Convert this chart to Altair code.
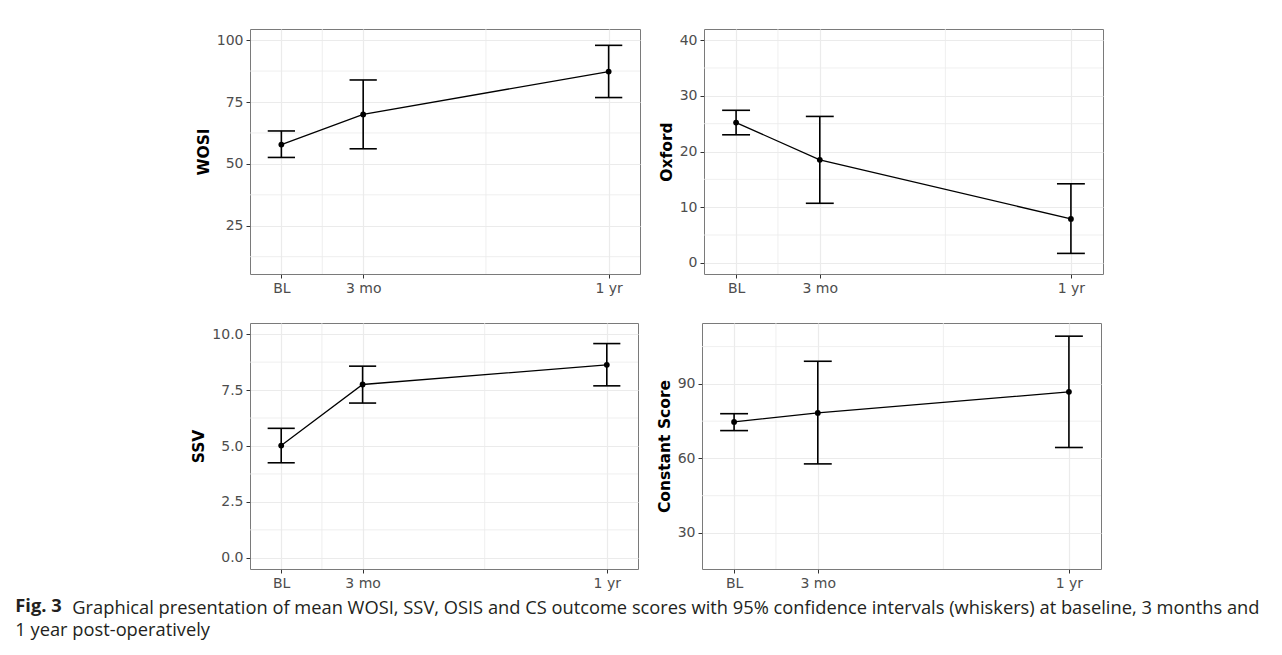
import altair as alt
import pandas as pd

# ---- data ----
time_pos = [0, 3, 12]
time_labels = ["BL", "3 mo", "1 yr"]
x_minor = [1.5, 7.5]

wosi_mean = [57.8, 70.0, 87.3]
wosi_lo = [52.6, 56.1, 76.8]
wosi_hi = [63.3, 83.9, 97.9]
wosi_ticks = [25, 50, 75, 100]
wosi_minor = [12.5, 37.5, 62.5, 87.5]

oxford_mean = [25.2, 18.5, 7.9]
oxford_lo = [23.0, 10.7, 1.7]
oxford_hi = [27.4, 26.3, 14.2]
oxford_ticks = [0, 10, 20, 30, 40]
oxford_minor = [5, 15, 25, 35]

ssv_mean = [5.02, 7.75, 8.63]
ssv_lo = [4.25, 6.92, 7.69]
ssv_hi = [5.79, 8.57, 9.58]
ssv_ticks = [0.0, 2.5, 5.0, 7.5, 10.0]
ssv_minor = [1.25, 3.75, 6.25, 8.75]

cs_mean = [74.7, 78.3, 86.8]
cs_lo = [71.2, 57.8, 64.4]
cs_hi = [78.0, 99.1, 109.2]
cs_ticks = [30, 60, 90]
cs_minor = [45, 75, 105]

caption_bold = "Fig. 3"
caption_line1 = ("Graphical presentation of mean WOSI, SSV, OSIS and CS outcome scores "
                 "with 95% confidence intervals (whiskers) at baseline, 3 months and")
caption_line2 = "1 year post-operatively"

label_expr = " : ".join(
    f"datum.value == {v} ? '{l}'" for v, l in zip(time_pos, time_labels)
) + " : ''"

GRID = "#ebebeb"
CAP_SIZE = 18.3
CAP_LH = 23
CAP_FONT = "Open Sans"
CAP_COLOR = "#231f20"
BOLD_GAP = 57  # room taken by the bold "Fig. 3" label on line 1
CAP_SHIFT = -176  # caption starts left of the panels


def panel(mean, lo, hi, title, ydomain, yticks, yminor, fmt, width, height):
    df = pd.DataFrame({"t": time_pos, "mean": mean, "lo": lo, "hi": hi})
    xscale = alt.Scale(domain=[-1.15, 13.15], nice=False, zero=False)
    yscale = alt.Scale(domain=ydomain, nice=False, zero=False)
    xaxis = alt.Axis(values=time_pos, labelExpr=label_expr, title=None,
                     grid=True, labelFlush=False, labelOverlap=False)
    yaxis = alt.Axis(values=yticks, format=fmt, title=title, grid=True,
                     labelFlush=False, labelOverlap=False)

    mx = alt.Chart(pd.DataFrame({"v": x_minor})).mark_rule(
        color=GRID, strokeWidth=0.8
    ).encode(x=alt.X("v:Q", scale=xscale, axis=xaxis))
    my = alt.Chart(pd.DataFrame({"v": yminor})).mark_rule(
        color=GRID, strokeWidth=0.8
    ).encode(y=alt.Y("v:Q", scale=yscale, axis=yaxis))

    base = alt.Chart(df)
    bars = base.mark_rule(color="black", strokeWidth=1.6).encode(
        x=alt.X("t:Q", scale=xscale, axis=xaxis),
        y=alt.Y("lo:Q", scale=yscale, axis=yaxis),
        y2="hi:Q",
    )
    caps = base.transform_fold(["lo", "hi"], as_=["k", "val"]).transform_calculate(
        x0="datum.t - 0.5", x1="datum.t + 0.5"
    ).mark_rule(color="black", strokeWidth=1.6).encode(
        x=alt.X("x0:Q", scale=xscale, axis=xaxis),
        x2="x1:Q",
        y=alt.Y("val:Q", scale=yscale, axis=yaxis),
    )
    line = base.mark_line(color="black", strokeWidth=1.3).encode(
        x=alt.X("t:Q", scale=xscale, axis=xaxis),
        y=alt.Y("mean:Q", scale=yscale, axis=yaxis),
    )
    pts = base.mark_circle(color="black", size=34, opacity=1).encode(
        x=alt.X("t:Q", scale=xscale, axis=xaxis),
        y=alt.Y("mean:Q", scale=yscale, axis=yaxis),
    )
    return alt.layer(mx, my, bars, caps, line, pts).properties(
        width=width, height=height
    )


p1 = panel(wosi_mean, wosi_lo, wosi_hi, "WOSI", [5.5, 104.5], wosi_ticks, wosi_minor, "d", 390, 245)
p2 = panel(oxford_mean, oxford_lo, oxford_hi, "Oxford", [-2, 42], oxford_ticks, oxford_minor, "d", 399, 245)
p3 = panel(ssv_mean, ssv_lo, ssv_hi, "SSV", [-0.5, 10.5], ssv_ticks, ssv_minor, ".1f", 388, 246)
p4 = panel(cs_mean, cs_lo, cs_hi, "Constant Score", [15.5, 114.5], cs_ticks, cs_minor, "d", 399, 246)

row1 = alt.hconcat(p1, p2, spacing=17)
row2 = alt.hconcat(p3, p4, spacing=17)

# caption line 1 (normal weight, after the bold label)
level_a = alt.vconcat(
    row1, row2, spacing=26,
    title=alt.TitleParams(
        text=caption_line1, orient="bottom", anchor="start", dx=CAP_SHIFT + BOLD_GAP,
        font=CAP_FONT, fontSize=CAP_SIZE, fontWeight="normal", color=CAP_COLOR,
        offset=9,
    ),
)

# caption line 2
level_b = alt.vconcat(
    level_a,
    title=alt.TitleParams(
        text=caption_line2, orient="bottom", anchor="start", dx=-BOLD_GAP,
        font=CAP_FONT, fontSize=CAP_SIZE, fontWeight="normal", color=CAP_COLOR,
        offset=CAP_LH - CAP_SIZE,
    ),
)

# bold "Fig. 3" label, lifted onto line 1
chart = alt.vconcat(
    level_b,
    title=alt.TitleParams(
        text=caption_bold, orient="bottom", anchor="start",
        dy=-(CAP_LH + CAP_SIZE), offset=0,
        font=CAP_FONT, fontSize=CAP_SIZE, fontWeight="bold", color=CAP_COLOR,
    ),
).properties(
    padding={"left": 15, "top": 28, "right": 5, "bottom": 10},
    background="white",
).configure_view(
    stroke="#7a7a7a", strokeWidth=1
).configure_axis(
    labelFont="DejaVu Sans", labelFontSize=14, labelColor="#4d4d4d",
    tickColor="#333333", tickSize=4, tickWidth=1, labelPadding=3,
    domain=False, gridColor=GRID, gridWidth=1.2,
    titleFont="DejaVu Sans", titleFontSize=15.5, titleFontWeight="bold",
    titleColor="black", titlePadding=5,
)

chart.save("out.html", embed_options={"renderer": "svg", "actions": False})
